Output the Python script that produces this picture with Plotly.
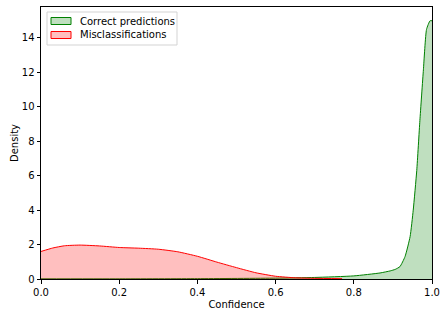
import plotly.graph_objects as go

# Confidence grid and KDE density values
red_x = [0.0, 0.03, 0.06, 0.1, 0.15, 0.2, 0.25, 0.3, 0.35, 0.4, 0.45, 0.5, 0.55, 0.6, 0.65, 0.7, 0.77]
red_y = [1.60, 1.80, 1.93, 1.97, 1.92, 1.83, 1.79, 1.73, 1.58, 1.32, 0.98, 0.66, 0.36, 0.16, 0.07, 0.04, 0.02]

green_x = [0.0, 0.2, 0.4, 0.6, 0.7, 0.8, 0.867, 0.893, 0.906, 0.918, 0.931, 0.944, 0.952, 0.961,
           0.969, 0.978, 0.986, 0.995, 1.0]
green_y = [0.01, 0.01, 0.02, 0.05, 0.09, 0.18, 0.35, 0.47, 0.56, 0.72, 1.30, 2.46, 4.0, 6.3,
           9.2, 12.15, 14.5, 15.0, 15.0]

legend_labels = ["Correct predictions", "Misclassifications"]
line_colors = ["green", "red"]
fill_colors = ["rgba(0,128,0,0.25)", "rgba(255,0,0,0.25)"]

fig = go.Figure()
for xs, ys, name, lc, fc in [(green_x, green_y, legend_labels[0], line_colors[0], fill_colors[0]),
                             (red_x, red_y, legend_labels[1], line_colors[1], fill_colors[1])]:
    fig.add_trace(go.Scatter(
        x=xs, y=ys, mode="lines", name=name, showlegend=False,
        line=dict(color=lc, width=1, shape="spline", smoothing=0.5),
        fill="tozeroy", fillcolor=fc,
    ))

axis_common = dict(
    showline=True, linecolor="black", linewidth=1, mirror=True, automargin=False,
    ticks="outside", ticklen=3.5, tickcolor="black", showgrid=False, zeroline=False,
    tickfont=dict(family="DejaVu Sans", size=10, color="black"),
    title_font=dict(family="DejaVu Sans", size=10, color="black"),
)
fig.update_xaxes(range=[0, 1], tickvals=[0, 0.2, 0.4, 0.6, 0.8, 1.0], tickformat=".1f",
                 title_text="Confidence", title_standoff=4, **axis_common)
fig.update_yaxes(range=[0, 15.8], tickvals=[0, 2, 4, 6, 8, 10, 12, 14],
                 title_text="Density", title_standoff=1, **axis_common)

# matplotlib-style legend box drawn in paper coordinates
plot_l, plot_r, plot_t, plot_b = 41, 432, 7, 279
def px(x):
    return (x - plot_l) / (plot_r - plot_l)
def py(y):
    return (plot_b - y) / (plot_b - plot_t)

fig.add_shape(type="rect", xref="paper", yref="paper",
              x0=px(47), x1=px(177), y0=py(45), y1=py(12),
              line=dict(color="#d3d3d3", width=1), fillcolor="rgba(255,255,255,0.8)", layer="above")
for i, (lab, lc, fc) in enumerate(zip(legend_labels, line_colors, fill_colors)):
    cy = 21 + 14 * i
    fig.add_shape(type="rect", xref="paper", yref="paper",
                  x0=px(51), x1=px(71), y0=py(cy + 3.5), y1=py(cy - 3.5),
                  line=dict(color=lc, width=1), fillcolor=fc, layer="above")
    fig.add_annotation(text=lab, xref="paper", yref="paper", x=px(78), y=py(cy),
                       xanchor="left", yanchor="middle", showarrow=False,
                       font=dict(family="DejaVu Sans", size=10, color="black"))

fig.update_layout(
    width=446, height=317,
    margin=dict(l=41, r=14, t=7, b=38, autoexpand=False),
    paper_bgcolor="white", plot_bgcolor="white",
    font=dict(family="DejaVu Sans", size=10, color="black"),
    showlegend=False,
)

fig.write_html("out.html", config={"displayModeBar": False},
               post_script="document.body.style.margin='0';")
